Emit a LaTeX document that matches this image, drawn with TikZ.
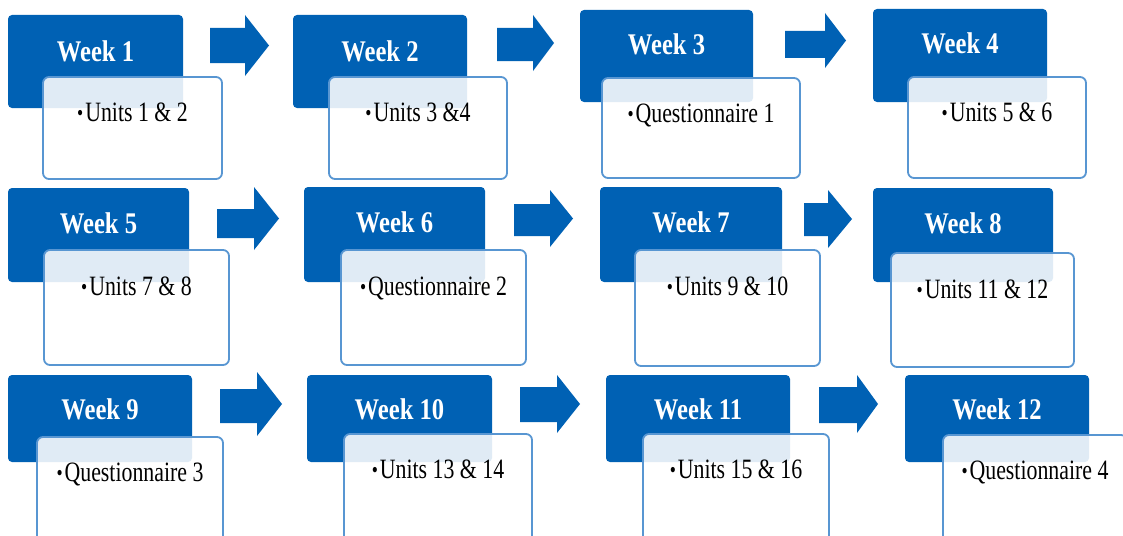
\documentclass[tikz,border=0pt]{standalone}
\usepackage{fontspec}
\setmainfont{Liberation Serif}
\definecolor{wkblue}{RGB}{0,97,180}
\definecolor{edgeblue}{RGB}{88,150,210}
\newcommand{\wklabel}[1]{\fontsize{30}{30}\selectfont\bfseries\scalebox{0.82}[1]{#1}}
\newcommand{\unlabel}[1]{\fontsize{28}{28}\selectfont\scalebox{0.78}[1]{\raisebox{1pt}{\scalebox{0.8}{•}}\hspace{2.5pt}#1}}
\newcommand{\blockarr}[7]{\fill[wkblue] (#1,#4) -- (#2,#4) -- (#2,#6) -- (#3,{(#6+#7)/2}) -- (#2,#7) -- (#2,#5) -- (#1,#5) -- cycle;}
\tikzset{
  bluebox/.style={draw=none, fill=wkblue, rounded corners=4pt, inner sep=0pt, outer sep=0pt, anchor=north west},
  whitebox/.style={draw=edgeblue, line width=1.8pt, fill=white, fill opacity=0.88, rounded corners=6pt, inner sep=0pt, outer sep=0pt, anchor=north west},
  wktext/.style={text=white, inner sep=0pt, anchor=base},
  untext/.style={text=black, inner sep=0pt, anchor=base},
}
\begin{document}
\begin{tikzpicture}[x=1pt,y=-1pt]
\useasboundingbox (0,0) rectangle (1123,535);
\clip (0,0) rectangle (1123,535);
\fill[white] (0,0) rectangle (1123,535);
% ---- blue heads
\node[bluebox, minimum width=175pt, minimum height=93pt] (b1) at (8,15) {};
\node[bluebox, minimum width=174pt, minimum height=93pt] (b2) at (293,15) {};
\node[bluebox, minimum width=173pt, minimum height=92pt] (b3) at (580,10) {};
\node[bluebox, minimum width=174pt, minimum height=93pt] (b4) at (873,9) {};
\node[bluebox, minimum width=181pt, minimum height=94pt] (b5) at (8,188) {};
\node[bluebox, minimum width=181pt, minimum height=95pt] (b6) at (304,187) {};
\node[bluebox, minimum width=182pt, minimum height=95pt] (b7) at (600,187) {};
\node[bluebox, minimum width=180pt, minimum height=94pt] (b8) at (873,188) {};
\node[bluebox, minimum width=184pt, minimum height=87pt] (b9) at (8,375) {};
\node[bluebox, minimum width=185pt, minimum height=87pt] (b10) at (307,375) {};
\node[bluebox, minimum width=184pt, minimum height=87pt] (b11) at (606,375) {};
\node[bluebox, minimum width=184pt, minimum height=87pt] (b12) at (905,375) {};
% ---- arrows
\blockarr{210}{245}{269}{28}{63}{15}{76}
\blockarr{497}{533}{554}{28}{61}{15}{71}
\blockarr{785}{825}{846}{31}{58}{13}{68}
\blockarr{217}{254}{279}{209}{238}{187}{250}
\blockarr{514}{550}{573}{204}{236}{190}{247}
\blockarr{804}{828}{852}{203}{236}{190}{248}
\blockarr{220}{257}{282}{389}{423}{372}{436}
\blockarr{520}{557}{580}{387}{422}{375}{433}
\blockarr{819}{857}{878}{387}{423}{375}{433}
% ---- white boxes
\node[whitebox, minimum width=179pt, minimum height=102pt] (u1) at (43,77) {};
\node[whitebox, minimum width=178pt, minimum height=102pt] (u2) at (329,77) {};
\node[whitebox, minimum width=198pt, minimum height=100pt] (u3) at (602,78) {};
\node[whitebox, minimum width=178pt, minimum height=101pt] (u4) at (908,77) {};
\node[whitebox, minimum width=185pt, minimum height=115pt] (u5) at (44,250) {};
\node[whitebox, minimum width=185pt, minimum height=115pt] (u6) at (341,250) {};
\node[whitebox, minimum width=185pt, minimum height=116pt] (u7) at (635,250) {};
\node[whitebox, minimum width=183pt, minimum height=114pt] (u8) at (891,253) {};
\node[whitebox, minimum width=186pt, minimum height=115pt] (u9) at (37,437) {};
\node[whitebox, minimum width=188pt, minimum height=115pt] (u10) at (344,434) {};
\node[whitebox, minimum width=186pt, minimum height=115pt] (u11) at (643,434) {};
\node[whitebox, minimum width=184pt, minimum height=115pt] (u12) at (943,435) {};
% ---- week labels
\node[wktext] (t1) at ([yshift=-46pt]b1.north) {\wklabel{Week 1}};
\node[wktext] (t2) at ([yshift=-46pt]b2.north) {\wklabel{Week 2}};
\node[wktext] (t3) at ([yshift=-45pt]b3.north) {\wklabel{Week 3}};
\node[wktext] (t4) at ([yshift=-45pt]b4.north) {\wklabel{Week 4}};
\node[wktext] (t5) at ([yshift=-45pt]b5.north) {\wklabel{Week 5}};
\node[wktext] (t6) at ([yshift=-45pt]b6.north) {\wklabel{Week 6}};
\node[wktext] (t7) at ([yshift=-45pt]b7.north) {\wklabel{Week 7}};
\node[wktext] (t8) at ([yshift=-45pt]b8.north) {\wklabel{Week 8}};
\node[wktext] (t9) at ([yshift=-44pt]b9.north) {\wklabel{Week 9}};
\node[wktext] (t10) at ([yshift=-44pt]b10.north) {\wklabel{Week 10}};
\node[wktext] (t11) at ([yshift=-44pt]b11.north) {\wklabel{Week 11}};
\node[wktext] (t12) at ([yshift=-44pt]b12.north) {\wklabel{Week 12}};
% ---- unit labels
\node[untext] (s1) at ([yshift=-44pt]u1.north) {\unlabel{Units 1 \& 2}};
\node[untext] (s2) at ([yshift=-44pt]u2.north) {\unlabel{Units 3 \&4}};
\node[untext] (s3) at ([yshift=-44pt]u3.north) {\unlabel{Questionnaire 1}};
\node[untext] (s4) at ([yshift=-44pt]u4.north) {\unlabel{Units 5 \& 6}};
\node[untext] (s5) at ([yshift=-45pt]u5.north) {\unlabel{Units 7 \& 8}};
\node[untext] (s6) at ([yshift=-45pt]u6.north) {\unlabel{Questionnaire 2}};
\node[untext] (s7) at ([yshift=-45pt]u7.north) {\unlabel{Units 9 \& 10}};
\node[untext] (s8) at ([yshift=-45pt]u8.north) {\unlabel{Units 11 \& 12}};
\node[untext] (s9) at ([yshift=-44pt]u9.north) {\unlabel{Questionnaire 3}};
\node[untext] (s10) at ([yshift=-44pt]u10.north) {\unlabel{Units 13 \& 14}};
\node[untext] (s11) at ([yshift=-44pt]u11.north) {\unlabel{Units 15 \& 16}};
\node[untext] (s12) at ([yshift=-44pt]u12.north) {\unlabel{Questionnaire 4}};
\end{tikzpicture}
\end{document}
